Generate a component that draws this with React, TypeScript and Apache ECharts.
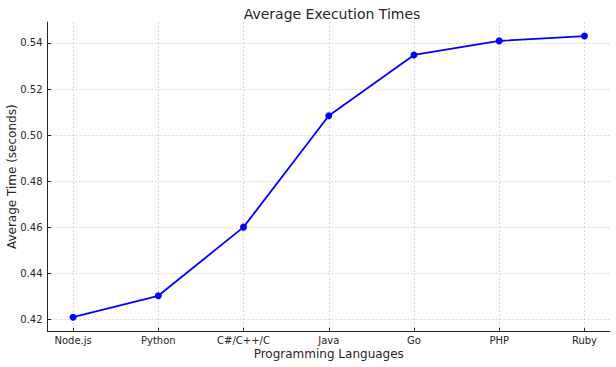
import React, { useEffect, useRef } from "react";
import * as echarts from "echarts";

const categories = ["Node.js", "Python", "C#/C++/C", "Java", "Go", "PHP", "Ruby"];
const avgTimes = [0.421, 0.4303, 0.4601, 0.5084, 0.5348, 0.5409, 0.543];
const yTicks = [0.42, 0.44, 0.46, 0.48, 0.5, 0.52, 0.54];
const xTicks = [0, 1, 2, 3, 4, 5, 6];

const FONT = "DejaVu Sans";
const TEXT = "#262626";

export default function App() {
  const ref = useRef<HTMLDivElement>(null);
  useEffect(() => {
    document.body.style.margin = "0";
    const chart = echarts.init(ref.current!, null, { renderer: "svg" });
    const data = avgTimes.map((v, i) => [i, v]);
    chart.setOption({
      animation: false,
      backgroundColor: "#ffffff",
      title: {
        text: "Average Execution Times",
        left: 327,
        textAlign: "center",
        top: 2,
        textStyle: { fontFamily: FONT, fontSize: 14, fontWeight: "normal", color: TEXT },
      },
      grid: { left: 47.5, right: 6, top: 22, bottom: 35.5, containLabel: false, outerBoundsMode: "none" },
      xAxis: {
        type: "value",
        min: -0.3,
        max: 6.3,
        name: "Programming Languages",
        nameLocation: "middle",
        nameGap: 16,
        nameMoveOverlap: false,
        nameTextStyle: { fontFamily: FONT, fontSize: 12, color: TEXT },
        axisLine: { show: true, onZero: false, lineStyle: { color: TEXT, width: 1 } },
        axisTick: { show: true, inside: true, length: 3.5, customValues: xTicks, lineStyle: { color: TEXT } },
        axisLabel: {
          customValues: xTicks,
          margin: 4,
          fontFamily: FONT,
          fontSize: 10,
          color: TEXT,
          formatter: (v: number) => categories[Math.round(v)] ?? "",
        },
        splitLine: { show: true, lineStyle: { color: "#cccccc", type: [2, 2], width: 0.8 } },
      },
      yAxis: {
        type: "value",
        min: 0.4148,
        max: 0.5491,
        name: "Average Time (seconds)",
        nameLocation: "middle",
        nameGap: 30,
        nameMoveOverlap: false,
        nameTextStyle: { fontFamily: FONT, fontSize: 12, color: TEXT },
        axisLine: { show: true, onZero: false, lineStyle: { color: TEXT, width: 1 } },
        axisTick: { show: true, inside: true, length: 3.5, customValues: yTicks, lineStyle: { color: TEXT } },
        axisLabel: {
          customValues: yTicks,
          margin: 5,
          fontFamily: FONT,
          fontSize: 10,
          color: TEXT,
          formatter: (v: number) => v.toFixed(2),
        },
        splitLine: { show: true, lineStyle: { color: "#cccccc", type: [2, 2], width: 0.8 } },
      },
      series: [
        {
          type: "line",
          data,
          symbol: "circle",
          symbolSize: 7,
          itemStyle: { color: "#0000ff" },
          lineStyle: { color: "#0000ff", width: 1.8 },
        },
      ],
    });
    return () => chart.dispose();
  }, []);
  return <div ref={ref} style={{ width: 616, height: 367 }} />;
}
